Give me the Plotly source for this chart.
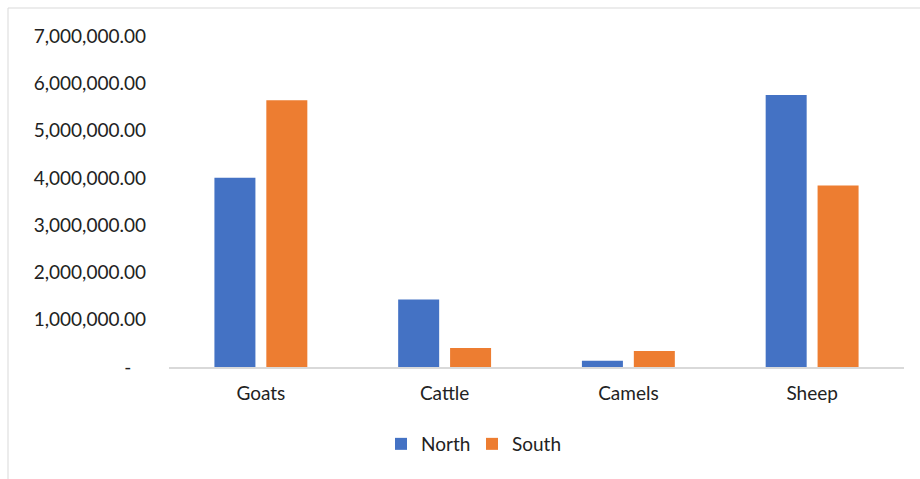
import plotly.graph_objects as go

# Livestock counts by region
categories = ["Goats", "Cattle", "Camels", "Sheep"]
north = [4000000, 1430000, 130000, 5750000]
south = [5640000, 400000, 340000, 3840000]

y_tick_values = [0, 1000000, 2000000, 3000000, 4000000, 5000000, 6000000, 7000000]
y_tick_labels = ["-\u00a0\u00a0\u00a0", "1,000,000.00", "2,000,000.00", "3,000,000.00",
                 "4,000,000.00", "5,000,000.00", "6,000,000.00", "7,000,000.00"]

FONT = "Lato"
W, H = 920, 479
L, R, T, B = 169, 16, 36, 112
plot_w = W - L - R
plot_h = H - T - B

fig = go.Figure()
fig.add_trace(go.Bar(x=categories, y=north, name="North", marker_color="#4472C4",
                     marker_line_width=0))
fig.add_trace(go.Bar(x=categories, y=south, name="South", marker_color="#ED7D31",
                     marker_line_width=0))

def px_x(x):
    return (x - L) / plot_w

def px_y(y):
    return (H - B - y) / plot_h

fig.update_layout(
    width=W, height=H,
    margin=dict(l=L, r=R, t=T, b=B, pad=0),
    paper_bgcolor="white", plot_bgcolor="white",
    barmode="group", bargap=0.435, bargroupgap=0.21,
    font=dict(family=FONT, size=19, color="#222222"),
    showlegend=True,
    legend=dict(orientation="h", x=px_x(472), xanchor="center",
                y=px_y(444), yanchor="middle",
                font=dict(family=FONT, size=19, color="#222222"),
                itemwidth=30, entrywidth=46, tracegroupgap=0),
    xaxis=dict(showgrid=False, showline=True, linecolor="#d9d9d9", linewidth=1.5,
               ticks="", ticklabelstandoff=8, tickfont=dict(size=19)),
    yaxis=dict(range=[0, 7000000], showgrid=False, zeroline=False, showline=False,
               tickvals=y_tick_values, ticktext=y_tick_labels, ticks="",
               ticklabelstandoff=22, tickfont=dict(size=19)),
    shapes=[dict(type="rect", xref="paper", yref="paper",
                 x0=px_x(8), x1=px_x(960), y0=px_y(520), y1=px_y(8),
                 line=dict(color="#d9d9d9", width=1), fillcolor="rgba(0,0,0,0)",
                 layer="below")],
)

fig.write_html("out.html")
